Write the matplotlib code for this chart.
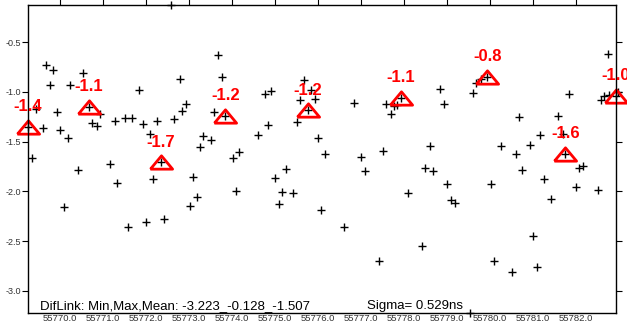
import matplotlib.pyplot as plt
import numpy as np

plt.rcParams['font.family'] = ['Liberation Sans', 'DejaVu Sans']
plt.rcParams['axes.unicode_minus'] = False

# link points (time, dif)
mjd = [55769.684, 55769.853, 55770.535, 55769.767, 55770.249, 55771.853, 55769.442, 55769.947,
       55770.947, 55770.760, 55770.860, 55771.279, 55771.521, 55771.674, 55771.947, 55772.265,
       55772.656, 55769.605, 55770.016, 55770.195, 55772.109, 55769.358, 55770.428, 55771.179,
       55771.342, 55770.093, 55772.179, 55771.581, 55772.016, 55772.435, 55773.684, 55773.777,
       55772.791, 55774.767, 55774.916, 55775.691, 55775.847, 55775.598, 55775.930, 55772.930,
       55772.853, 55773.581, 55774.847, 55775.512, 55774.605, 55773.342, 55773.521, 55773.265,
       55776.016, 55774.179, 55774.023, 55775.272, 55773.102, 55775.016, 55774.109, 55775.172,
       55775.435, 55773.186, 55773.023, 55775.102, 55776.074, 55776.853, 55777.598, 55777.784,
       55777.847, 55777.698, 55778.853, 55778.930, 55776.179, 55777.016, 55777.521, 55778.605,
       55777.109, 55776.609, 55778.102, 55778.505, 55778.691, 55779.016, 55779.093, 55779.186,
       55778.435, 55777.435, 55782.760, 55779.691, 55779.807, 55779.605, 55781.853, 55780.684,
       55781.598, 55781.179, 55781.698, 55780.272, 55780.947, 55780.605, 55782.591, 55782.667,
       55782.777, 55782.977, 55780.767, 55780.023, 55781.272, 55782.079, 55782.186, 55782.021,
       55782.528, 55781.419, 55781.009, 55780.105, 55781.102, 55780.521, 55772.598, 55779.540]
dif = [-0.732, -0.785, -0.812, -0.932, -0.935, -0.978, -1.175, -1.205,
       -1.228, -1.312, -1.345, -1.298, -1.265, -1.265, -1.322, -1.298,
       -1.273, -1.365, -1.385, -1.465, -1.428, -1.665, -1.782, -1.728,
       -1.912, -2.158, -1.875, -2.358, -2.305, -2.278, -0.628, -0.852,
       -0.868, -1.018, -0.992, -0.882, -0.982, -1.085, -1.072, -1.118,
       -1.195, -1.208, -1.338, -1.308, -1.438, -1.448, -1.488, -1.552,
       -1.462, -1.610, -1.670, -1.775, -1.858, -1.868, -1.998, -2.012,
       -2.022, -2.062, -2.148, -2.128, -2.185, -1.108, -1.125, -1.142,
       -1.128, -1.228, -0.972, -1.122, -1.623, -1.657, -1.598, -1.545,
       -1.798, -2.358, -2.018, -1.768, -1.798, -1.928, -2.085, -2.118,
       -2.545, -2.705, -0.622, -0.915, -0.875, -1.012, -1.022, -1.255,
       -1.248, -1.438, -1.425, -1.545, -1.538, -1.630, -1.082, -1.045,
       -1.032, -1.002, -1.785, -1.928, -1.872, -1.770, -1.745, -1.955,
       -1.992, -2.077, -2.445, -2.702, -2.762, -2.815, -0.128, -3.223]

# daily means, marked with triangles
mean_mjd = [55769.265, 55770.674, 55772.358, 55773.853, 55775.767, 55777.940, 55779.947, 55781.767, 55782.935]
mean_dif = [-1.352, -1.148, -1.708, -1.242, -1.185, -1.06, -0.848, -1.622, -1.042]

fig = plt.figure(figsize=(6.27, 3.25), dpi=100)
ax = fig.add_axes([28/627, 12/325, 587.7/627, 308/325])

ax.plot(mjd, dif, '+', color='black', ms=6, mew=1.0, clip_on=False)
ax.plot(mean_mjd, mean_dif, '+', color='black', ms=6, mew=1.0, clip_on=False)
tri = [(-1, -0.6), (1, -0.6), (0, 0.6), (-1, -0.6)]
ax.plot(mean_mjd, mean_dif, ls='none', marker=tri, ms=16, mfc='none', mec='red', mew=2.0, clip_on=False)
for x, y in zip(mean_mjd, mean_dif):
    ax.annotate('%.1f' % y, (x, y), xytext=(0, 14.5), textcoords='offset points',
                ha='center', va='center', color='red', fontsize=12, fontweight='bold',
                annotation_clip=False)

ax.set_xlim(min(mean_mjd), max(mean_mjd))
ax.set_ylim(min(dif), max(dif))
ax.set_xticks(np.arange(55770, 55783, 1.0))
ax.set_xticklabels(['%.1f' % v for v in np.arange(55770, 55783, 1.0)])
ax.set_yticks([-0.5, -1.0, -1.5, -2.0, -2.5, -3.0])
ax.set_yticklabels(['-0.5', '-1.0', '-1.5', '-2.0', '-2.5', '-3.0'])
ax.tick_params(axis='x', bottom=True, top=True, direction='out', length=4, width=0.8,
               labelsize=6.8, labelcolor='#333333', pad=-3.2)
ax.tick_params(axis='x', which='major', bottom=False)
ax.tick_params(axis='y', left=True, right=True, direction='out', length=4, width=0.8,
               labelsize=6.5, labelcolor='#333333', pad=1)
for s in ax.spines.values():
    s.set_linewidth(1.0)

ax.text(0.0204, 0.004, 'DifLink: Min,Max,Mean: -3.223_-0.128_-1.507', transform=ax.transAxes,
        fontsize=9.5, va='bottom', ha='left')
ax.text(0.577, 0.004, 'Sigma= 0.529ns', transform=ax.transAxes, fontsize=9.5, va='bottom', ha='left')

plt.savefig('out.png', dpi=100)
